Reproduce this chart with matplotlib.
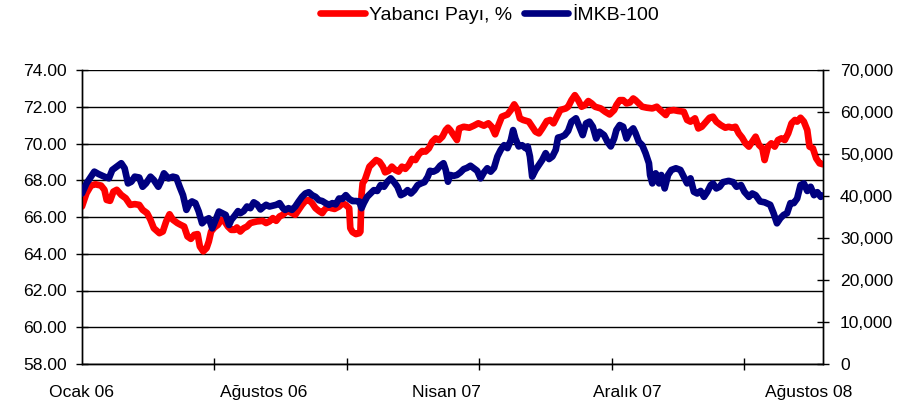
import matplotlib
matplotlib.use("Agg")
import matplotlib.pyplot as plt
from matplotlib.ticker import MultipleLocator, FuncFormatter

plt.rcParams['font.family'] = ['Liberation Sans', 'DejaVu Sans']

# x axis: trading-day index from the start of January 2006
tick_labels = ['Ocak 06', 'Ağustos 06', 'Nisan 07', 'Aralık 07', 'Ağustos 08']
label_days = [0, 162, 325, 486, 647]
tickmark_days = [0, 118, 236, 354, 472, 590]

# Yabancı Payı, % (left axis)
yab_day = [0, 4, 8, 12, 17, 20, 22, 25, 28, 31, 35, 39, 43, 47, 51, 54, 58, 61, 64, 69,
           72, 75, 78, 81, 85, 88, 91, 94, 97, 100, 103, 105, 108, 111, 113, 115, 118, 121, 124, 127,
           130, 133, 136, 138, 141, 144, 147, 150, 153, 156, 161, 164,
           167, 170, 173, 176, 179, 181, 184, 187, 190, 193, 196, 199, 202, 205, 208, 211, 214, 216,
           219, 222, 225, 229, 232, 235, 238, 239, 241, 244, 247, 248, 249, 250, 252, 254, 256, 259,
           262, 265, 268, 270, 273, 276, 279, 282, 285, 288, 291, 294, 297, 300, 303, 306, 309, 312,
           315, 318, 321, 324, 326,
           328, 331, 334, 336, 340, 345, 349, 353, 358, 362, 365, 368, 371, 374, 379, 382, 385, 388,
           390, 393, 398, 401, 404, 407, 410, 414, 417, 420, 423, 426, 431, 433, 436, 439, 442, 445,
           448, 451, 454, 457, 462, 466, 470, 474, 476, 479, 482, 485, 488, 491,
           493, 496, 499, 503, 508, 512, 515, 520, 522, 527, 531, 536, 539, 542, 546, 549, 552, 556,
           559, 562, 565, 569, 573, 576, 579, 582, 585, 588, 591, 594, 597, 600, 603, 606, 608, 611,
           614, 617, 620, 623, 626, 629, 632, 635, 637, 640, 643, 646, 648, 651, 654, 657, 660]
yab_val = [66.57, 67.29, 67.71, 67.78, 67.71, 67.48, 66.93, 66.88, 67.38, 67.48, 67.20, 67.02, 66.66, 66.70, 66.66, 66.39, 66.21, 65.85, 65.39, 65.12,
           65.21, 65.76, 66.15, 65.85, 65.67, 65.57, 65.48, 64.94, 64.81, 65.03, 65.07, 64.40, 64.13, 64.31, 64.67, 65.21, 65.43, 65.57, 65.85, 65.76,
           65.48, 65.30, 65.30, 65.43, 65.21, 65.39, 65.48, 65.67, 65.72, 65.76, 65.79, 65.67,
           65.76, 65.94, 65.79, 66.03, 66.12, 66.26, 66.30, 66.21, 66.12, 66.39, 66.66, 66.88, 66.93, 66.75, 66.48, 66.33, 66.21, 66.39,
           66.57, 66.48, 66.44, 66.57, 66.75, 66.66, 66.48, 65.39, 65.18, 65.07, 65.12, 65.21, 67.20, 67.84, 68.02, 68.38, 68.74, 68.92,
           69.10, 69.01, 68.74, 68.43, 68.51, 68.74, 68.56, 68.47, 68.74, 68.62, 68.83, 69.16, 69.10, 69.41, 69.59, 69.56, 69.74, 70.10,
           70.28, 70.19, 70.37, 70.73, 70.86,
           70.73, 70.46, 70.19, 70.82, 70.91, 70.86, 70.97, 71.10, 70.97, 71.10, 70.91, 70.50, 71.00, 71.46, 71.58, 71.82, 72.13, 71.82,
           71.37, 71.28, 71.19, 70.91, 70.64, 70.55, 70.82, 71.22, 71.28, 71.10, 71.46, 71.82, 71.91, 72.00, 72.36, 72.63, 72.36, 72.00,
           72.09, 72.31, 72.18, 72.00, 71.91, 71.73, 71.58, 71.82, 72.09, 72.36, 72.36, 72.18, 72.23, 72.45,
           72.36, 72.18, 72.00, 71.95, 71.91, 72.00, 71.82, 71.55, 71.77, 71.82, 71.77, 71.73, 71.28, 71.19, 71.37, 70.82, 70.91, 71.19,
           71.40, 71.46, 71.19, 71.00, 70.86, 70.91, 70.86, 70.91, 70.55, 70.32, 70.01, 69.83, 70.10, 70.37, 69.92, 69.74, 69.10, 69.83,
           70.01, 69.83, 70.19, 70.28, 70.19, 70.55, 71.10, 71.28, 71.19, 71.40, 71.19, 70.73, 69.83, 69.74, 69.19, 68.92, 68.87]

# İMKB-100 index (right axis)
imkb_day = [0, 4, 7, 11, 15, 20, 24, 27, 31, 35, 38, 41, 44, 47, 51, 54, 57, 61, 64, 68,
            70, 73, 77, 81, 84, 87, 90, 93, 96, 98, 101, 104, 107, 110, 113, 116, 119, 122, 125, 128,
            131, 133, 136, 139, 141, 144, 147, 150, 153, 156, 159, 162,
            164, 167, 170, 173, 176, 179, 181, 184, 187, 190, 193, 196, 199, 202, 205, 208, 211, 214,
            217, 220, 223, 226, 229, 232, 235, 238, 241, 244, 247, 249, 251, 254, 257, 260, 263, 266,
            269, 272, 275, 278, 281, 284, 287, 290, 293, 296, 299, 302, 305, 308, 310, 313, 316, 319,
            322, 324, 326,
            328, 331, 334, 337, 340, 343, 346, 349, 352, 355, 358, 361, 364, 367, 370, 373, 376, 379,
            382, 384, 386, 389, 392, 395, 397, 399, 401, 404, 407, 410, 413, 416, 419, 422, 424, 427,
            430, 433, 436, 440, 443, 446, 449, 452, 455, 458, 461, 465, 468, 471, 474, 476, 479, 482,
            485, 488, 491,
            493, 496, 499, 502, 505, 506, 508, 511, 514, 516, 519, 522, 525, 529, 533, 536, 539, 542,
            545, 548, 551, 554, 557, 560, 562, 565, 568, 571, 576, 580, 583, 587, 590, 594, 597, 600,
            604, 608, 613, 616, 619, 622, 625, 628, 631, 634, 637, 640, 643, 646, 649, 652, 655, 658, 661]
imkb_val = [40600, 43000, 44200, 45800, 45200, 44600, 44200, 46200, 47000, 47800, 46600, 43000, 43400, 44600, 44400, 42200, 43000, 44600, 43800, 42200,
            43300, 45400, 44200, 44600, 44400, 42200, 40200, 36700, 38300, 38700, 38300, 36300, 33500, 34300, 34700, 32300, 34300, 36300, 35900, 35500,
            33100, 34300, 35300, 36400, 35900, 36400, 37500, 37100, 38500, 38000, 36800, 37500,
            37900, 37500, 37700, 37900, 38300, 37100, 36700, 37100, 36700, 37500, 38700, 39800, 40600, 40900, 40200, 39800, 39000, 38800,
            38300, 37900, 38300, 38000, 39400, 39300, 40200, 39300, 38800, 38800, 38700, 37100, 38300, 39800, 40600, 41400, 41200, 42600,
            42200, 43400, 44200, 43300, 42200, 40200, 40600, 41400, 40600, 41400, 42600, 43000, 43300, 44600, 46000, 45800, 46200, 47200,
            47800, 46200, 43400,
            45000, 44800, 45000, 45600, 46400, 46700, 47200, 46600, 46000, 44200, 45600, 46600, 45800, 46700, 49400, 51000, 52100, 51400,
            53300, 55700, 53700, 51800, 52100, 51400, 51800, 49400, 44600, 46200, 47400, 48600, 50200, 48800, 49400, 51000, 53900, 54100,
            54500, 55500, 57700, 58500, 56500, 54500, 57300, 57700, 56500, 53700, 55300, 54500, 52900, 51800, 53700, 55700, 56900, 56500,
            53700, 55300, 56100,
            55000, 52900, 52100, 50200, 47800, 45000, 43000, 45400, 43000, 45000, 41800, 45000, 46200, 46600, 46200, 44600, 43000, 44200,
            41000, 40600, 41200, 39800, 41000, 42600, 43000, 41800, 42200, 43300, 43600, 43300, 42200, 42600, 41000, 39800, 40600, 40200,
            38700, 38500, 37900, 35900, 33500, 34700, 35500, 35900, 38300, 38300, 39400, 42600, 43000, 41200, 42200, 40200, 40900, 39800, 40200]

series_names = ['Yabancı Payı, %', 'İMKB-100']
series_colors = ['#FF0000', '#000080']

fig = plt.figure(figsize=(9.22, 4.0), dpi=100)
ax = fig.add_axes([0.0889, 0.09, 0.8037, 0.735])
ax2 = ax.twinx()

l1, = ax.plot(yab_day, yab_val, color=series_colors[0], lw=4.8,
              solid_joinstyle='round', solid_capstyle='round', label=series_names[0], zorder=3)
l2, = ax2.plot(imkb_day, imkb_val, color=series_colors[1], lw=4.8,
               solid_joinstyle='round', solid_capstyle='round', label=series_names[1], zorder=3)

ax.set_xlim(0, 660)
ax.set_ylim(58, 74)
ax2.set_ylim(0, 70000)
ax.yaxis.set_major_locator(MultipleLocator(2))
ax2.yaxis.set_major_locator(MultipleLocator(10000))
ax.yaxis.set_major_formatter(FuncFormatter(lambda v, p: f'{v:.2f}'))
ax2.yaxis.set_major_formatter(FuncFormatter(lambda v, p: f'{v:,.0f}'))

ax.grid(axis='y', color='black', lw=1.0, zorder=0)
ax.set_axisbelow(True)

ax.set_xticks(label_days)
ax.set_xticklabels(tick_labels)
ax.set_xticks(tickmark_days, minor=True)
ax.tick_params(axis='x', which='major', length=0, pad=14.8, labelsize=12.6)
ax.tick_params(axis='x', which='minor', direction='inout', length=8, width=1, color='black')
ax.tick_params(axis='y', which='major', direction='inout', length=8, width=1, pad=6.8, labelsize=12.6)
ax2.tick_params(axis='y', which='major', direction='inout', length=8, width=1, pad=8.2, labelsize=12.6)

for a in (ax, ax2):
    a.spines['top'].set_visible(False)
    for s in ('left', 'right', 'bottom'):
        a.spines[s].set_color('black')
        a.spines[s].set_linewidth(1.0)

fig.legend([l1, l2], series_names, loc='center', bbox_to_anchor=(0.531, 0.963), ncol=2,
           frameon=False, fontsize=14, handlelength=2.3, handletextpad=0.2, columnspacing=0.6)

fig.savefig('out.png', dpi=100)
